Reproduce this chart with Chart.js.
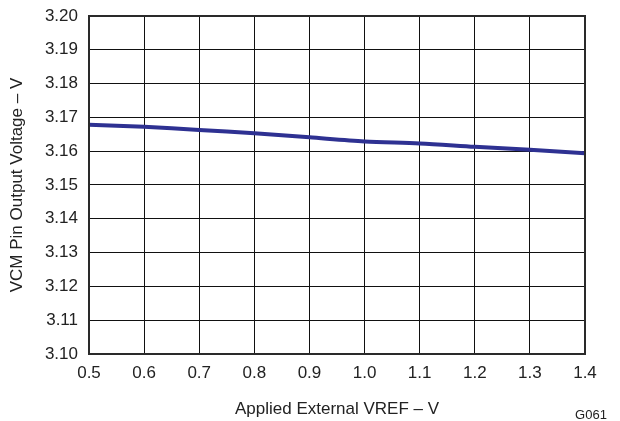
<!DOCTYPE html>
<html>
<head>
<meta charset="utf-8">
<script src="https://cdn.jsdelivr.net/npm/chart.js@4/dist/chart.umd.min.js"></script>
<style>
html,body{margin:0;padding:0;background:#fff;}
#wrap{width:620px;height:421px;position:relative;}
</style>
</head>
<body>
<div id="wrap"><canvas id="c" width="620" height="421"></canvas></div>
<script>
const vrefValues = [0.5, 0.6, 0.7, 0.8, 0.9, 1.0, 1.1, 1.2, 1.3, 1.4];
const vcmValues = [3.1678, 3.1672, 3.1663, 3.1653, 3.1641, 3.1629, 3.1623, 3.1613, 3.1604, 3.1594];
const xTitle = 'Applied External VREF – V';
const yTitle = 'VCM Pin Output Voltage – V';
const figureCode = 'G061';

const FONT = '"Liberation Sans", Arial, sans-serif';

const framePlugin = {
  id: 'frame',
  afterDraw(chart) {
    const {ctx, chartArea: a} = chart;
    ctx.save();
    ctx.strokeStyle = '#2a2a2a';
    ctx.lineWidth = 2;
    ctx.strokeRect(a.left, a.top, a.right - a.left, a.bottom - a.top);
    ctx.fillStyle = '#222';
    ctx.font = '13px ' + FONT;
    ctx.textAlign = 'center';
    ctx.textBaseline = 'middle';
    ctx.fillText(figureCode, 591, 415);
    ctx.restore();
  }
};

new Chart(document.getElementById('c'), {
  type: 'line',
  data: {
    datasets: [{
      data: vrefValues.map((x, i) => ({x: x, y: vcmValues[i]})),
      borderColor: '#2e3192',
      borderWidth: 4,
      pointRadius: 0,
      tension: 0.3,
      fill: false
    }]
  },
  options: {
    responsive: false,
    animation: false,
    layout: {padding: {top: 16, right: 35, left: 0, bottom: 0}},
    plugins: {legend: {display: false}, tooltip: {enabled: false}},
    scales: {
      x: {
        type: 'linear',
        min: 0.5, max: 1.4,
        afterFit(s) { s.height = 67; s.paddingLeft = 0; s.paddingRight = 0; },
        border: {display: false},
        grid: {color: '#111', lineWidth: 1, drawTicks: false},
        ticks: {
          stepSize: 0.1, padding: 9, color: '#222',
          font: {family: FONT, size: 17},
          callback: v => Number(v).toFixed(1)
        },
        title: {display: true, text: xTitle, color: '#222',
          font: {family: FONT, size: 17}, padding: {top: 0, bottom: 1}}
      },
      y: {
        min: 3.10, max: 3.20,
        afterFit(s) { s.width = 89; s.paddingTop = 0; s.paddingBottom = 0; },
        border: {display: false},
        grid: {color: '#111', lineWidth: 1, drawTicks: false},
        ticks: {
          stepSize: 0.01, padding: 11, color: '#222',
          font: {family: FONT, size: 17},
          callback: v => Number(v).toFixed(2)
        },
        title: {display: true, text: yTitle, color: '#222',
          font: {family: FONT, size: 17}, padding: {top: 7, bottom: 0}}
      }
    }
  },
  plugins: [framePlugin]
});
</script>
</body>
</html>
